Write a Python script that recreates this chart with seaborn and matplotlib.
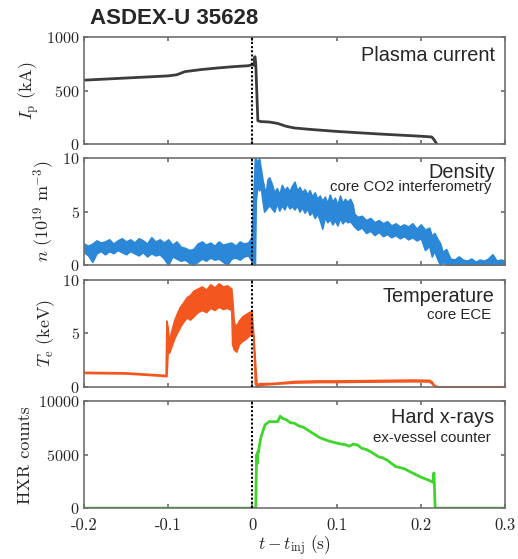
import numpy as np
import pandas as pd
import matplotlib
matplotlib.use("Agg")
import matplotlib.pyplot as plt
import seaborn as sns

# plasma current (kA)
t_ip = [-0.2, -0.15, -0.1, -0.09, -0.08, -0.06, -0.04, -0.02, -0.005, 0.0, 0.002, 0.003,
        0.004, 0.0065, 0.01, 0.02, 0.03, 0.04, 0.05, 0.07, 0.1, 0.15, 0.2, 0.213, 0.216, 0.219]
ip = [600, 620, 640, 650, 680, 700, 715, 728, 735, 745, 740, 820,
      760, 220, 212, 208, 195, 168, 152, 138, 120, 96, 75, 68, 40, 0]

# density (1e19 m^-3), noisy band: lower / upper envelope
t_ne = [-0.2, -0.195, -0.19, -0.185, -0.18, -0.175, -0.17, -0.165, -0.16, -0.155,
        -0.15, -0.145, -0.14, -0.135, -0.13, -0.125, -0.12, -0.115, -0.11, -0.105,
        -0.1, -0.095, -0.09, -0.085, -0.08, -0.075, -0.07, -0.065, -0.06, -0.055,
        -0.05, -0.045, -0.04, -0.035, -0.03, -0.025, -0.02, -0.015, -0.01, -0.005,
        -0.001, 0.002, 0.003, 0.004, 0.006, 0.008, 0.01, 0.012, 0.014, 0.016,
        0.018, 0.02, 0.023, 0.026, 0.029, 0.032, 0.035, 0.038, 0.041, 0.044,
        0.047, 0.05, 0.053, 0.056, 0.059, 0.062, 0.065, 0.068, 0.071, 0.074,
        0.077, 0.08, 0.083, 0.086, 0.089, 0.092, 0.095, 0.098, 0.101, 0.104,
        0.107, 0.11, 0.113, 0.116, 0.119, 0.121, 0.125, 0.13, 0.135, 0.14,
        0.145, 0.15, 0.155, 0.16, 0.165, 0.17, 0.175, 0.18, 0.185, 0.19,
        0.195, 0.2, 0.205, 0.21, 0.213, 0.216, 0.22, 0.223, 0.226, 0.23,
        0.235, 0.24, 0.245, 0.25, 0.255, 0.26, 0.265, 0.27, 0.275, 0.28,
        0.285, 0.29, 0.295, 0.3]
ne_lo = [1.2, 0.9, 0.3, 1.1, 1.3, 1.0, 1.3, 1.1, 1.4, 1.2,
         1.0, 1.3, 1.1, 0.9, 1.2, 0.8, 1.1, 0.9, 1.0, 0.6,
         0.0, 0.8, 0.6, 0.4, 0.5, 0.2, 0.0, 0.3, 0.6, 0.4,
         0.7, 0.5, 0.6, 0.3, 0.0, 0.6, 0.7, 0.5, 0.8, 0.9,
         0.4, 0.0, 0.0, 6.0, 7.5, 7.0, 7.3, 6.0, 5.0, 5.2,
         5.4, 5.6, 5.3, 5.0, 5.8, 5.1, 5.6, 5.2, 5.8, 5.3,
         5.5, 5.2, 5.6, 5.0, 5.4, 4.9, 5.3, 4.7, 5.0, 4.4,
         4.8, 4.2, 3.4, 4.5, 4.0, 4.3, 3.8, 4.2, 3.7, 4.4,
         3.9, 4.2, 4.0, 4.1, 3.8, 3.6, 3.3, 3.5, 3.0, 3.2,
         2.8, 3.1, 2.7, 2.9, 2.6, 2.8, 2.5, 2.7, 2.4, 2.6,
         2.3, 2.5, 1.4, 1.8, 0.8, 1.3, 0.5, 0.0, 0.3, 0.0,
         0.0, 0.0, 0.0, 0.0, 0.0, 0.0, 0.0, 0.0, 0.0, 0.0,
         0.0, 0.0, 0.0, 0.0]
ne_hi = [2.0, 1.8, 2.0, 2.3, 2.1, 2.2, 2.4, 2.0, 2.3, 2.5,
         2.2, 2.4, 2.1, 2.5, 2.3, 2.0, 2.6, 2.2, 2.4, 2.1,
         2.4, 1.9, 2.2, 1.7, 1.6, 1.4, 1.5, 2.0, 2.2, 1.9,
         2.1, 1.8, 2.2, 1.9, 2.0, 2.1, 1.8, 2.2, 2.0, 2.1,
         2.6, 8.0, 10.0, 10.0, 9.6, 10.0, 9.0, 8.0, 7.2, 6.8,
         8.0, 8.2, 7.6, 6.8, 7.2, 6.6, 7.5, 7.0, 7.3, 6.9,
         7.4, 7.8, 7.0, 7.3, 6.8, 7.1, 6.6, 7.0, 6.4, 6.8,
         6.2, 6.5, 6.0, 6.4, 5.8, 6.6, 5.9, 6.3, 5.6, 6.5,
         5.8, 6.2, 5.9, 6.2, 5.7, 4.8, 4.5, 4.6, 4.2, 4.4,
         4.0, 4.2, 3.9, 4.1, 3.7, 3.9, 3.6, 3.8, 3.6, 3.9,
         3.4, 3.8, 3.3, 3.5, 2.7, 3.0, 2.4, 2.0, 1.2, 1.5,
         0.6, 0.5, 0.8, 0.5, 0.4, 0.6, 0.3, 0.5, 0.4, 0.6,
         1.0, 0.4, 0.5, 0.4]

# electron temperature (keV), noisy band: lower / upper envelope
t_te = [-0.2, -0.15, -0.11, -0.103, -0.102, -0.1005, -0.099, -0.097, -0.093, -0.09, -0.086,
        -0.083, -0.078, -0.074, -0.07, -0.065, -0.06, -0.055, -0.05, -0.045, -0.04, -0.035,
        -0.03, -0.025, -0.024, -0.022, -0.019, -0.016, -0.012, -0.008, -0.004, -0.001,
        0.001, 0.003, 0.005, 0.008, 0.012, 0.02, 0.03, 0.05, 0.08, 0.1, 0.13, 0.16, 0.19,
        0.21, 0.213, 0.216, 0.22, 0.3]
te_lo = [1.3, 1.25, 1.05, 1.0, 1.0, 3.5, 3.2, 3.6, 4.5, 5.0, 5.6,
         6.0, 6.5, 6.3, 6.6, 7.0, 7.2, 7.0, 7.4, 7.2, 7.5, 7.3,
         7.4, 7.2, 4.0, 3.5, 3.3, 4.0, 4.3, 4.5, 4.8, 5.0,
         4.8, 0.3, 0.0, 0.1, 0.2, 0.25, 0.3, 0.4, 0.45, 0.45, 0.48, 0.5, 0.52,
         0.5, 0.3, 0.05, 0.0, 0.0]
te_hi = [1.4, 1.35, 1.15, 1.1, 6.2, 5.5, 4.2, 5.0, 6.2, 6.8, 7.5,
         7.8, 8.4, 8.6, 9.0, 9.2, 9.4, 9.1, 9.6, 9.3, 9.7, 9.4,
         9.5, 9.2, 8.3, 6.0, 5.7, 6.2, 6.6, 6.8, 7.0, 7.1,
         5.0, 2.5, 0.2, 0.35, 0.35, 0.35, 0.4, 0.55, 0.6, 0.6, 0.62, 0.65, 0.68,
         0.65, 0.5, 0.15, 0.05, 0.05]

# hard x-ray counts
t_hxr = [-0.2, 0.0, 0.004, 0.005, 0.006, 0.0065, 0.007, 0.01, 0.015, 0.02, 0.025, 0.03,
         0.033, 0.036, 0.04, 0.045, 0.05, 0.055, 0.06, 0.07, 0.08, 0.09, 0.1, 0.105, 0.11,
         0.115, 0.12, 0.125, 0.13, 0.135, 0.14, 0.15, 0.155, 0.16, 0.17, 0.18, 0.19, 0.2,
         0.21, 0.215, 0.2155, 0.216, 0.217, 0.3]
hxr = [0, 0, 0, 5000, 4200, 5300, 5200, 6600, 7800, 8100, 8100, 8100,
       8600, 8400, 8300, 8000, 7950, 7700, 7600, 7100, 6600, 6300, 6100, 6000, 5950,
       5800, 6000, 5900, 5600, 5500, 5300, 4800, 4700, 4500, 3900, 3700, 3300, 2900,
       2600, 2400, 3300, 2400, 0, 0]

sns.set_theme(style="ticks")
plt.rcParams["font.family"] = ["serif"]
plt.rcParams["font.serif"] = ["cmr10", "DejaVu Serif"]
plt.rcParams["mathtext.fontset"] = "cm"
plt.rcParams["axes.unicode_minus"] = False
plt.rcParams["axes.formatter.use_mathtext"] = True

fig = plt.figure(figsize=(5.18, 5.59), dpi=100)
left, width, height = 0.162, 0.813, 0.191
bottoms = [0.742, 0.526, 0.308, 0.091]
axes = [fig.add_axes([left, b, width, height]) for b in bottoms]

c_ip = "#3c3c3c"
c_ne = "#2b87d8"
c_te = "#f4561f"
c_hxr = "#3fd62b"
sans = "Liberation Sans"

sns.lineplot(x=t_ip, y=ip, ax=axes[0], color=c_ip, lw=2)
axes[0].set_ylim(0, 1000)
axes[0].set_yticks([0, 500, 1000])
axes[0].set_ylabel(r"$I_\mathrm{p}\ \mathrm{(kA)}$")

axes[1].fill_between(t_ne, ne_lo, ne_hi, color=c_ne, lw=1.2, edgecolor=c_ne)
axes[1].set_ylim(0, 10)
axes[1].set_yticks([0, 5, 10])
axes[1].set_ylabel(r"$n\ (10^{19}\ \mathrm{m}^{-3})$")

axes[2].fill_between(t_te, te_lo, te_hi, color=c_te, lw=1.2, edgecolor=c_te)
axes[2].set_ylim(0, 10)
axes[2].set_yticks([0, 5, 10])
axes[2].set_ylabel(r"$T_\mathrm{e}\ \mathrm{(keV)}$")

sns.lineplot(x=t_hxr, y=hxr, ax=axes[3], color=c_hxr, lw=2)
axes[3].set_ylim(0, 10000)
axes[3].set_yticks([0, 5000, 10000])
axes[3].set_ylabel("HXR counts")
axes[3].set_xlabel(r"$t - t_\mathrm{inj}\ \mathrm{(s)}$", labelpad=0, fontsize=12.5)

titles = ["Plasma current", "Density", "Temperature", "Hard x-rays"]
title_y = [0.83, 0.87, 0.85, 0.85]
subtitles = ["", "core CO2 interferometry", "core ECE", "ex-vessel counter"]
sub_y = [0, 0.73, 0.67, 0.66]

for i, ax in enumerate(axes):
    ax.axvline(0, color="black", ls=(0, (1, 1)), lw=1.5, zorder=5)
    ax.set_xlim(-0.2, 0.3)
    ax.set_xticks([-0.2, -0.1, 0, 0.1, 0.2, 0.3])
    if i < 3:
        ax.set_xticklabels([])
    else:
        ax.set_xticklabels(["-0.2", "-0.1", "0", "0.1", "0.2", "0.3"])
    for s in ax.spines.values():
        s.set_color("#707070")
        s.set_linewidth(1.2)
    ax.tick_params(direction="in", length=3, color="#707070", labelsize=12,
                   top=True, right=True, pad=3)
    ax.tick_params(axis="y", labelsize=11.6)
    ax.tick_params(axis="x", pad=7)
    ax.yaxis.label.set_size(13)
    ax.text(0.975, title_y[i], titles[i], transform=ax.transAxes, ha="right", va="center",
            family=sans, fontsize=14.3)
    if subtitles[i]:
        ax.text(0.967, sub_y[i], subtitles[i], transform=ax.transAxes, ha="right",
                va="center", family=sans, fontsize=10.8)

fig.text(0.173, 0.967, "ASDEX-U 35628", family=sans, fontweight="bold", fontsize=16,
         ha="left", va="center")

fig.savefig("out.png", dpi=100)
